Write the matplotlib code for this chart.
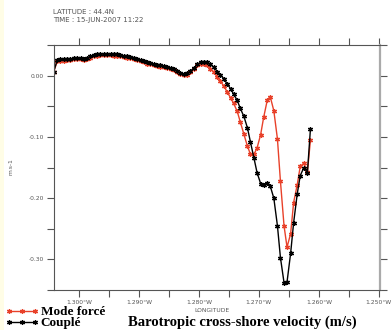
import matplotlib
matplotlib.use('Agg')
import matplotlib.pyplot as plt
from matplotlib.ticker import MultipleLocator, FuncFormatter
from matplotlib.patches import Rectangle

plt.rcParams['axes.unicode_minus'] = False

# longitude grid (negative = west)
lon = [-1.3042, -1.3036, -1.3031, -1.3025, -1.3019, -1.3014, -1.3008, -1.3003,
       -1.2997, -1.2992, -1.2986, -1.2981, -1.2975, -1.2969, -1.2964, -1.2958,
       -1.2953, -1.2947, -1.2942, -1.2936, -1.2931, -1.2925, -1.2919, -1.2914,
       -1.2908, -1.2903, -1.2897, -1.2892, -1.2886, -1.2881, -1.2875, -1.2869,
       -1.2864, -1.2858, -1.2853, -1.2847, -1.2842, -1.2836, -1.2831, -1.2825,
       -1.2819, -1.2814, -1.2808, -1.2803, -1.2797, -1.2792, -1.2786, -1.2781,
       -1.2775, -1.2769, -1.2764, -1.2758, -1.2753, -1.2747, -1.2742, -1.2736,
       -1.2731, -1.2725, -1.2719, -1.2714, -1.2708, -1.2703, -1.2697, -1.2692,
       -1.2686, -1.2681, -1.2675, -1.2669, -1.2664, -1.2658, -1.2653, -1.2647,
       -1.2642, -1.2636, -1.2631, -1.2625, -1.2619, -1.2614]

couple = [0.007, 0.026, 0.027, 0.027, 0.028, 0.028, 0.029, 0.029,
          0.029, 0.028, 0.029, 0.032, 0.034, 0.035, 0.036, 0.036,
          0.036, 0.036, 0.035, 0.035, 0.034, 0.033, 0.032, 0.031,
          0.030, 0.028, 0.026, 0.024, 0.022, 0.021, 0.019, 0.018,
          0.017, 0.016, 0.015, 0.013, 0.011, 0.008, 0.005, 0.003,
          0.004, 0.008, 0.013, 0.019, 0.022, 0.022, 0.022, 0.019,
          0.014, 0.007, 0.002, -0.005, -0.013, -0.021, -0.030, -0.040,
          -0.053, -0.066, -0.085, -0.108, -0.135, -0.158, -0.176, -0.178,
          -0.175, -0.180, -0.200, -0.245, -0.297, -0.338, -0.337, -0.290,
          -0.240, -0.193, -0.163, -0.150, -0.158, -0.087]

force = [0.007, 0.024, 0.025, 0.025, 0.026, 0.026, 0.027, 0.027,
         0.027, 0.026, 0.027, 0.030, 0.032, 0.033, 0.034, 0.034,
         0.034, 0.034, 0.033, 0.033, 0.032, 0.031, 0.030, 0.029,
         0.028, 0.026, 0.024, 0.022, 0.020, 0.019, 0.017, 0.016,
         0.015, 0.014, 0.013, 0.011, 0.009, 0.006, 0.003, 0.001,
         0.002, 0.006, 0.011, 0.017, 0.020, 0.020, 0.017, 0.012,
         0.006, -0.002, -0.009, -0.017, -0.026, -0.036, -0.045, -0.058,
         -0.075, -0.095, -0.115, -0.128, -0.128, -0.118, -0.096, -0.068,
         -0.040, -0.034, -0.057, -0.103, -0.172, -0.245, -0.280, -0.258,
         -0.207, -0.178, -0.148, -0.143, -0.157, -0.105]

W, H = 391, 330
fig = plt.figure(figsize=(W / 100, H / 100), dpi=100)
fig.patch.set_facecolor('white')
fig.patches.append(Rectangle((0, 0), 4 / W, 1, transform=fig.transFigure,
                             facecolor='#fffde6', edgecolor='none'))

ax = fig.add_axes([53.7 / W, 1 - 290 / H, (380 - 53.7) / W, (290 - 45) / H])

star = (6, 2, 0)
ax.plot(lon, force, color='#e8412a', lw=1.0, marker=star, ms=3.6, mew=0.9,
        label='Mode forcé')
ax.plot(lon, couple, color='black', lw=1.0, marker=star, ms=3.6, mew=0.9,
        label='Couplé')

ax.set_xlim(-1.3042, -1.2498)
ax.set_ylim(-0.35, 0.0505)

gray = '#555555'
ax.xaxis.set_major_locator(MultipleLocator(0.01))
ax.xaxis.set_minor_locator(MultipleLocator(0.005))
ax.yaxis.set_major_locator(MultipleLocator(0.1))
ax.yaxis.set_minor_locator(MultipleLocator(0.05))
ax.xaxis.set_major_formatter(FuncFormatter(lambda v, p: f'{-v:.3f}\u00b0W'))
ax.yaxis.set_major_formatter(FuncFormatter(lambda v, p: f'{v:.2f}' if abs(v) > 1e-9 else '0.00'))
ax.tick_params(which='both', direction='out', length=5, width=0.8, color=gray,
               labelsize=4.3, labelcolor=gray, pad=2,
               top=True, right=True)
for side in ['left', 'bottom', 'top']:
    ax.spines[side].set_color(gray)
    ax.spines[side].set_linewidth(0.8)
ax.spines['right'].set_color('#aaaaaa')
ax.spines['right'].set_linewidth(1.6)

fig.text(212 / W, 1 - 311 / H, 'LONGITUDE', fontsize=4.3, color=gray,
         ha='center', va='center')
fig.text(11 / W, 1 - 167 / H, 'm.s-1', fontsize=4.3, color=gray,
         ha='center', va='center', rotation=90)
fig.text(53 / W, 1 - 12 / H, 'LATITUDE : 44.4N', fontsize=5, color=gray,
         ha='left', va='center')
fig.text(53 / W, 1 - 20 / H, 'TIME : 15-JUN-2007 11:22', fontsize=5, color=gray,
         ha='left', va='center')

fig.text(242 / W, 1 - 322 / H, 'Barotropic cross-shore velocity (m/s)',
         fontsize=10.5, fontweight='bold', family='Liberation Serif',
         ha='center', va='center')

fig.legend(loc='lower left', bbox_to_anchor=(0.01, 0.0), frameon=False,
           numpoints=3, handlelength=2.6, handletextpad=0.15, labelspacing=-0.1,
           borderaxespad=0, borderpad=0.05,
           prop={'family': 'Liberation Serif', 'weight': 'bold', 'size': 9.5})

fig.savefig('out.png', dpi=100)
